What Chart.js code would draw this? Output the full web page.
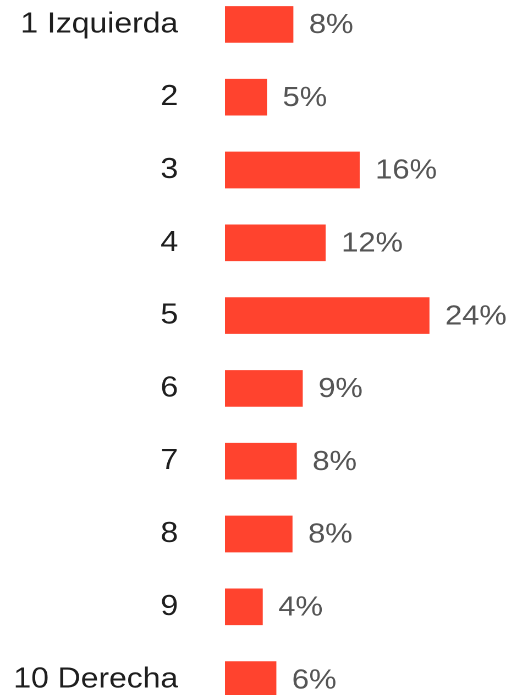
<!DOCTYPE html>
<html>
<head>
<meta charset="utf-8">
<script src="https://cdn.jsdelivr.net/npm/chart.js@4"></script>
<style>
  html, body { margin: 0; padding: 0; background: #fff; overflow: hidden; }
  body { width: 527px; height: 695px; position: relative; }
  /* the reference text is a bit wider than Arial, so the chart is stretched sideways */
  #wrap {
    position: absolute;
    left: 0;
    top: -12px;
    transform: scaleX(1.1);
    transform-origin: 0 0;
  }
</style>
</head>
<body>
<div id="wrap"><canvas id="barChart" width="479" height="728"></canvas></div>
<script>
// Chart Data
const categories = ["1 Izquierda", "2", "3", "4", "5", "6", "7", "8", "9", "10 Derecha"];
const percentValues = [8.0, 4.9, 15.8, 11.8, 24.0, 9.1, 8.4, 7.9, 4.4, 6.0];

// value labels at the end of each bar
const valueLabels = {
  id: "valueLabels",
  afterDatasetsDraw(chart) {
    const ctx = chart.ctx;
    const meta = chart.getDatasetMeta(0);
    ctx.save();
    ctx.font = "28px 'Liberation Sans', Arial, sans-serif";
    ctx.fillStyle = "#555555";
    ctx.textAlign = "left";
    ctx.textBaseline = "middle";
    meta.data.forEach(function (bar, i) {
      ctx.fillText(Math.round(percentValues[i]) + "%", bar.x + 14.5, bar.y + 1);
    });
    ctx.restore();
  },
};

const config = {
  type: "bar",
  data: {
    labels: categories,
    datasets: [
      {
        data: percentValues,
        backgroundColor: "#ff432e",
        borderWidth: 0,
        barThickness: 36,
      },
    ],
  },
  options: {
    indexAxis: "y",
    responsive: false,
    animation: false,
    devicePixelRatio: 2,
    layout: { padding: 0 },
    scales: {
      x: {
        display: false,
        min: 0,
        max: 35.5,
      },
      y: {
        grid: { display: false, drawTicks: false },
        border: { display: false },
        ticks: {
          padding: 42.5,
          color: "#1e1e1e",
          font: { family: "'Liberation Sans', Arial, sans-serif", size: 29 },
        },
        afterFit: function (scale) {
          // fixed label column, and no extra space above / below the rows
          scale.width = 204.5;
          scale.paddingTop = 0;
          scale.paddingBottom = 0;
        },
      },
    },
    plugins: {
      legend: { display: false },
      tooltip: { enabled: false },
    },
  },
  plugins: [valueLabels],
};

new Chart(document.getElementById("barChart"), config);
</script>
</body>
</html>
